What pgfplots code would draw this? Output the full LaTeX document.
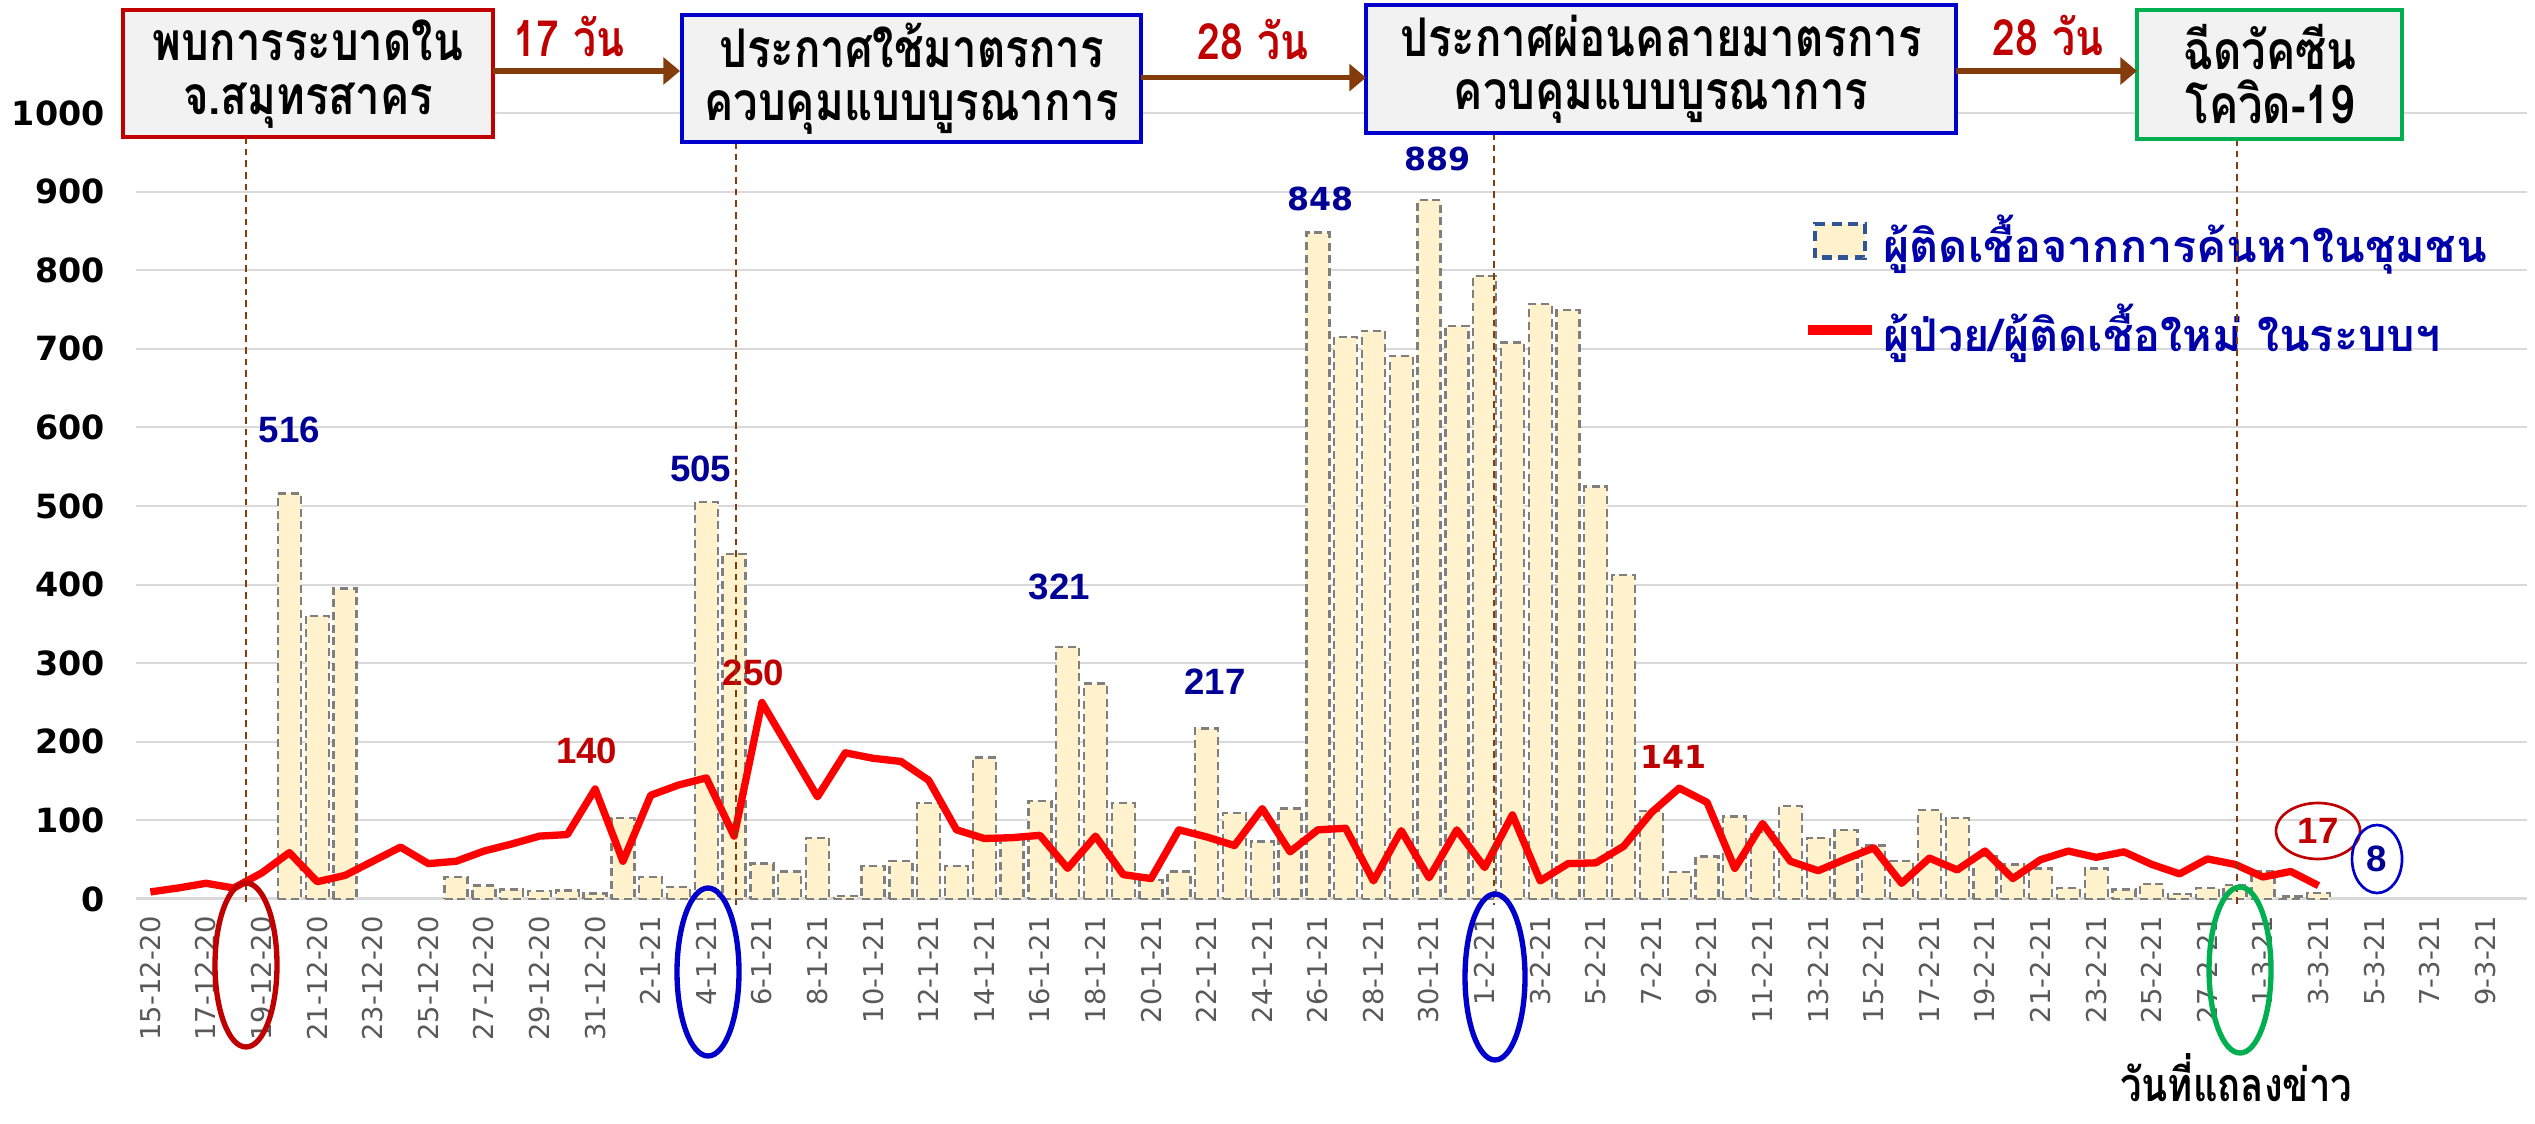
\documentclass[border=0pt]{standalone}
\usepackage{pgfplots}
\pgfplotsset{compat=1.18}
\usepackage{fontspec}
\setmainfont{DejaVu Sans}
\newfontfamily\thai[Script=Thai]{Loma}
\newfontfamily\thaic[Script=Thai, FakeStretch=0.82]{Loma}
\newfontfamily\lsans{Liberation Sans}
\newfontfamily\dvs{DejaVu Sans}
\usetikzlibrary{arrows.meta}
\definecolor{cream}{HTML}{FFF2CC}
\definecolor{bargray}{HTML}{7F7F7F}
\definecolor{gridgray}{HTML}{D9D9D9}
\definecolor{labgray}{HTML}{595959}
\definecolor{navy}{RGB}{0,0,150}
\definecolor{legblue}{RGB}{0,0,170}
\definecolor{legedge}{HTML}{2F5597}
\definecolor{darkred}{HTML}{C00000}
\definecolor{brownc}{HTML}{843C0C}
\definecolor{boxblue}{HTML}{0000CC}
\definecolor{boxgreen}{HTML}{00B050}
\definecolor{boxgray}{HTML}{F2F2F2}
\begin{document}
\begin{tikzpicture}
\useasboundingbox (0,0) rectangle (760.5pt,337.2pt);
\begin{axis}[
  at={(40.95pt,67.5pt)}, anchor=south west,
  scale only axis, width=717.15pt, height=235.8pt,
  xmin=-0.5, xmax=85.5, ymin=0, ymax=1000,
  clip=false,
  axis x line*=bottom, axis y line*=left,
  y axis line style={draw=none},
  x axis line style={draw=gridgray, line width=0.9pt},
  ytick={0,100,...,1000}, ytick style={draw=none},
  ymajorgrids, grid style={gridgray, line width=0.6pt},
  /pgf/number format/assume math mode=true,
  /pgf/number format/1000 sep={},
  yticklabel style={font=\dvs\bfseries\fontsize{10}{12}\selectfont, xshift=-6pt},
  xtick={0,2,...,84}, xtick style={draw=none},
  xticklabels={15-12-20,17-12-20,19-12-20,21-12-20,23-12-20,25-12-20,27-12-20,29-12-20,31-12-20,2-1-21,4-1-21,6-1-21,8-1-21,10-1-21,12-1-21,14-1-21,16-1-21,18-1-21,20-1-21,22-1-21,24-1-21,26-1-21,28-1-21,30-1-21,1-2-21,3-2-21,5-2-21,7-2-21,9-2-21,11-2-21,13-2-21,15-2-21,17-2-21,19-2-21,21-2-21,23-2-21,25-2-21,27-2-21,1-3-21,3-3-21,5-3-21,7-3-21,9-3-21},
  xticklabel style={rotate=90, anchor=east, font=\dvs\fontsize{8.2}{9}\selectfont, text=labgray, inner xsep=5pt},
  extra x ticks={-0.5,1.5,...,85.5}, extra x tick labels={},
  extra x tick style={grid=none, tick align=outside, major tick length=3.5pt, tick style={draw=gridgray, line width=0.8pt}},
  legend style={at={(0.697,0.88)}, anchor=north west, draw=none, fill=none,
    font=\thai\bfseries\fontsize{13.5}{16}\selectfont, text=legblue, row sep=7pt, inner sep=0pt},
  legend cell align=left,
]
\addplot[ybar, bar width=6.9pt, fill=cream, draw=bargray, line width=0.7pt, dash pattern=on 2.4pt off 1.4pt,
  legend image code/.code={\draw[draw=legedge, fill=cream, line width=1.3pt, dash pattern=on 3pt off 2pt] (0pt,-5pt) rectangle (15pt,5pt);}]
coordinates {
(5,516)(6,360)(7,395)
(11,28)(12,17)(13,12)(14,10)(15,11)(16,7)(17,103)(18,28)(19,15)(20,505)
(21,439)(22,45)(23,35)(24,78)(25,4)(26,42)(27,48)(28,122)(29,42)(30,180)
(31,75)(32,125)(33,321)(34,274)(35,122)(36,24)(37,35)(38,217)(39,109)(40,73)
(41,115)(42,848)(43,715)(44,723)(45,691)(46,889)(47,729)(48,793)(49,708)(50,757)
(51,749)(52,525)(53,412)(54,112)(55,34)(56,54)(57,105)(58,85)(59,118)(60,78)
(61,88)(62,68)(63,48)(64,113)(65,103)(66,55)(67,44)(68,39)(69,14)(70,39)
(71,12)(72,19)(73,6)(74,14)(75,18)(76,35)(77,3)(78,8)
};
\addlegendentry{ผู้ติดเชื้อจากการค้นหาในชุมชน}
\addplot[red, line width=2.2pt, line join=round,
  legend image code/.code={\draw[red, line width=3pt] (-2pt,0pt) -- (17pt,0pt);}]
coordinates {
(0,9)(1,14)(2,20)(3,14)(4,33)(5,59)(6,22)(7,30)(8,48)(9,66)(10,45)
(11,48)(12,61)(13,70)(14,80)(15,82)(16,140)(17,48)(18,132)(19,145)(20,154)
(21,80)(22,250)(23,190)(24,130)(25,186)(26,179)(27,175)(28,151)(29,88)(30,77)
(31,78)(32,81)(33,39)(34,80)(35,31)(36,26)(37,88)(38,79)(39,68)(40,115)
(41,60)(42,88)(43,90)(44,23)(45,87)(46,27)(47,88)(48,40)(49,107)(50,23)
(51,45)(52,46)(53,67)(54,110)(55,141)(56,123)(57,39)(58,96)(59,48)(60,36)
(61,51)(62,65)(63,20)(64,52)(65,37)(66,61)(67,26)(68,50)(69,61)(70,53)
(71,60)(72,44)(73,32)(74,51)(75,44)(76,28)(77,35)(78,17)
};
\addlegendentry{ผู้ป่วย/ผู้ติดเชื้อใหม่ ในระบบฯ}
% data labels
\node[font=\lsans\bfseries\fontsize{11}{12}\selectfont, text=navy] at (axis cs:5,597) {516};
\node[font=\lsans\bfseries\fontsize{11}{12}\selectfont, text=navy] at (axis cs:19.8,547) {505};
\node[font=\lsans\bfseries\fontsize{11}{12}\selectfont, text=navy] at (axis cs:32.7,397) {321};
\node[font=\lsans\bfseries\fontsize{11}{12}\selectfont, text=navy] at (axis cs:38.3,276) {217};
\node[font=\dvs\bfseries\fontsize{9.5}{11}\selectfont, text=navy] at (axis cs:42.1,891) {848};
\node[font=\dvs\bfseries\fontsize{9.5}{11}\selectfont, text=navy] at (axis cs:46.3,942) {889};
\node[font=\lsans\bfseries\fontsize{11}{12}\selectfont, text=darkred] at (axis cs:15.7,189) {140};
\node[font=\lsans\bfseries\fontsize{11}{12}\selectfont, text=darkred] at (axis cs:21.7,288) {250};
\node[font=\dvs\bfseries\fontsize{9.5}{11}\selectfont, text=darkred] at (axis cs:54.8,181) {141};
\end{axis}
\begin{scope}[x=0.3pt, y=-0.3pt, shift={(0pt,337.2pt)}]
% vertical dashed lines
\draw[brownc, line width=0.6pt, dash pattern=on 2pt off 1.5pt] (246,137) -- (246,905);
\draw[brownc, line width=0.6pt, dash pattern=on 2pt off 1.5pt] (735.6,142) -- (735.6,905);
\draw[brownc, line width=0.6pt, dash pattern=on 2pt off 1.5pt] (1494,133) -- (1494,905);
\draw[brownc, line width=0.6pt, dash pattern=on 2pt off 1.5pt] (2237,139) -- (2237,905);
% boxes
\draw[darkred, line width=1pt, fill=boxgray] (123,10) rectangle (493,137);
\draw[boxblue, line width=1pt, fill=boxgray] (682,15) rectangle (1141,142);
\draw[boxblue, line width=1pt, fill=boxgray] (1366,5) rectangle (1956,133);
\draw[boxgreen, line width=1pt, fill=boxgray] (2137,10) rectangle (2402,139);
\node[font=\thaic\bfseries\fontsize{16}{16}\selectfont, align=center] at (308,74) {พบการระบาดใน\\จ.สมุทรสาคร};
\node[font=\thaic\bfseries\fontsize{16}{16}\selectfont, align=center] at (911.5,79) {ประกาศใช้มาตรการ\\ควบคุมแบบบูรณาการ};
\node[font=\thaic\bfseries\fontsize{16}{16}\selectfont, align=center] at (1661,69) {ประกาศผ่อนคลายมาตรการ\\ควบคุมแบบบูรณาการ};
\node[font=\thaic\bfseries\fontsize{16}{16}\selectfont, align=center] at (2270,74) {ฉีดวัคซีน\\โควิด-19};
% arrows
\draw[brownc, line width=1.6pt, -{Triangle[length=5pt,width=8pt]}] (493,71) -- (680,71);
\draw[brownc, line width=1.6pt, -{Triangle[length=5pt,width=8pt]}] (1141,77.6) -- (1366,77.6);
\draw[brownc, line width=1.6pt, -{Triangle[length=5pt,width=8pt]}] (1956,71) -- (2137,71);
\node[font=\thaic\bfseries\fontsize{15}{16}\selectfont, text=darkred] at (569,36) {17 วัน};
\node[font=\thaic\bfseries\fontsize{15}{16}\selectfont, text=darkred] at (1253,40) {28 วัน};
\node[font=\thaic\bfseries\fontsize{15}{16}\selectfont, text=darkred] at (2048,36) {28 วัน};
% ellipses around dates
\draw[darkred, line width=1.6pt] (246,965) ellipse [x radius=31, y radius=82];
\draw[boxblue, line width=1.6pt] (708,972) ellipse [x radius=31, y radius=84];
\draw[boxblue, line width=1.6pt] (1495,977) ellipse [x radius=30, y radius=83];
\draw[boxgreen, line width=1.6pt] (2240,970) ellipse [x radius=31, y radius=83];
% last values
\draw[darkred, line width=0.8pt] (2318,831) ellipse [x radius=42, y radius=28];
\node[font=\lsans\bfseries\fontsize{11}{12}\selectfont, text=darkred] at (2318,831) {17};
\draw[boxblue, line width=0.8pt] (2377,859) ellipse [x radius=25, y radius=34];
\node[font=\lsans\bfseries\fontsize{11}{12}\selectfont, text=navy] at (2377,859) {8};
% x axis title
\node[font=\thaic\bfseries\fontsize{14}{15}\selectfont, inner sep=1pt] at (2236,1078) {วันที่แถลงข่าว};
\end{scope}
\end{tikzpicture}
\end{document}
